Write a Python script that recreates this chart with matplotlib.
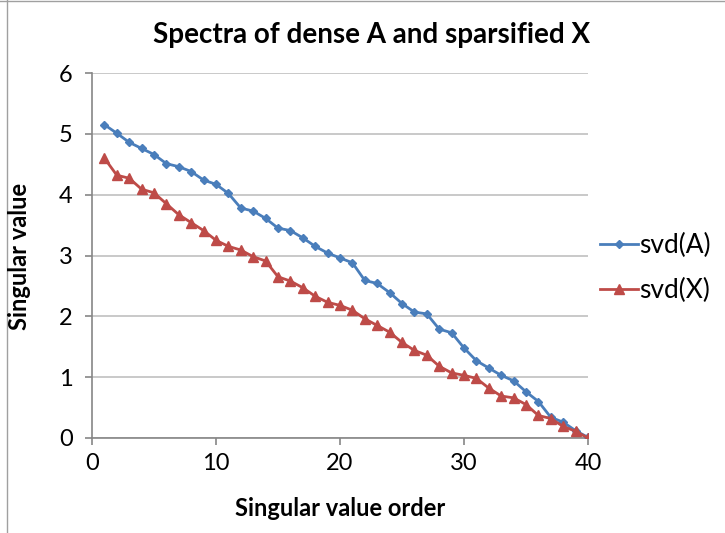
import matplotlib
matplotlib.use("Agg")
import matplotlib.pyplot as plt
from matplotlib.lines import Line2D

order = list(range(1, 41))
svd_A = [5.15, 5.01, 4.86, 4.76, 4.66, 4.51, 4.46, 4.38, 4.24, 4.17,
         4.02, 3.78, 3.73, 3.61, 3.45, 3.41, 3.29, 3.15, 3.04, 2.96,
         2.88, 2.59, 2.54, 2.39, 2.21, 2.07, 2.04, 1.79, 1.73, 1.48,
         1.27, 1.15, 1.03, 0.94, 0.76, 0.60, 0.34, 0.26, 0.12, 0.01]
svd_X = [4.60, 4.32, 4.27, 4.09, 4.03, 3.85, 3.67, 3.54, 3.41, 3.25,
         3.15, 3.09, 2.98, 2.91, 2.65, 2.58, 2.47, 2.33, 2.23, 2.18,
         2.10, 1.96, 1.85, 1.74, 1.57, 1.44, 1.36, 1.18, 1.07, 1.03,
         0.98, 0.82, 0.69, 0.66, 0.55, 0.37, 0.32, 0.19, 0.11, 0.00]
x_ticks = [0, 10, 20, 30, 40]
y_ticks = [0, 1, 2, 3, 4, 5, 6]

plt.rcParams['font.family'] = ['Lato', 'DejaVu Sans']
blue = '#4A7EBB'
red = '#BE4B48'
gray = '#868686'

fig = plt.figure(figsize=(7.25, 5.33), dpi=100)
W, H = 725, 533
ax = fig.add_axes([92 / W, (H - 438) / H, (588 - 92) / W, (438 - 73) / H])

ax.plot(order, svd_A, color=blue, lw=2, marker='D', ms=4.5, label='svd(A)', zorder=3)
ax.plot(order, svd_X, color=red, lw=2, marker='^', ms=7, label='svd(X)', zorder=3)

ax.set_xlim(0, 40)
ax.set_ylim(0, 6)
ax.set_xticks(x_ticks)
ax.set_yticks(y_ticks)
ax.grid(axis='y', color='#C0C0C0', lw=1.2)
ax.set_axisbelow(True)
for s in ['top', 'right']:
    ax.spines[s].set_visible(False)
for s in ['left', 'bottom']:
    ax.spines[s].set_color(gray)
    ax.spines[s].set_linewidth(1.2)
ax.tick_params(axis='both', colors=gray, labelcolor='black', labelsize=17,
               length=5, width=1.2, direction='out')
ax.tick_params(axis='x', pad=6)
ax.tick_params(axis='y', pad=9)

fig.text(372 / W, 1 - 35 / H, 'Spectra of dense A and sparsified X',
         ha='center', va='center', fontsize=20, fontweight='bold')
fig.text(340 / W, 1 - 508 / H, 'Singular value order',
         ha='center', va='center', fontsize=17, fontweight='bold')
fig.text(20 / W, 1 - 256 / H, 'Singular value', rotation=90,
         ha='center', va='center', fontsize=17, fontweight='bold')

handles = [Line2D([], [], color=blue, lw=2, marker='D', ms=4.5),
           Line2D([], [], color=red, lw=2, marker='^', ms=7)]
fig.legend(handles, ['svd(A)', 'svd(X)'], loc='center left',
           bbox_to_anchor=(600 / W, 1 - 268 / H), frameon=False,
           borderpad=0, borderaxespad=0,
           fontsize=19, handlelength=1.45, handletextpad=0.05, labelspacing=0.75)

# outer chart frame (partially visible)
fig.add_artist(Line2D([7 / W, 7 / W], [0, 1], transform=fig.transFigure, color='#A0A0A0', lw=1))
fig.add_artist(Line2D([0, 1], [1 - 0.5 / H, 1 - 0.5 / H], transform=fig.transFigure, color='#A0A0A0', lw=1))

fig.savefig('out.png', dpi=100)
